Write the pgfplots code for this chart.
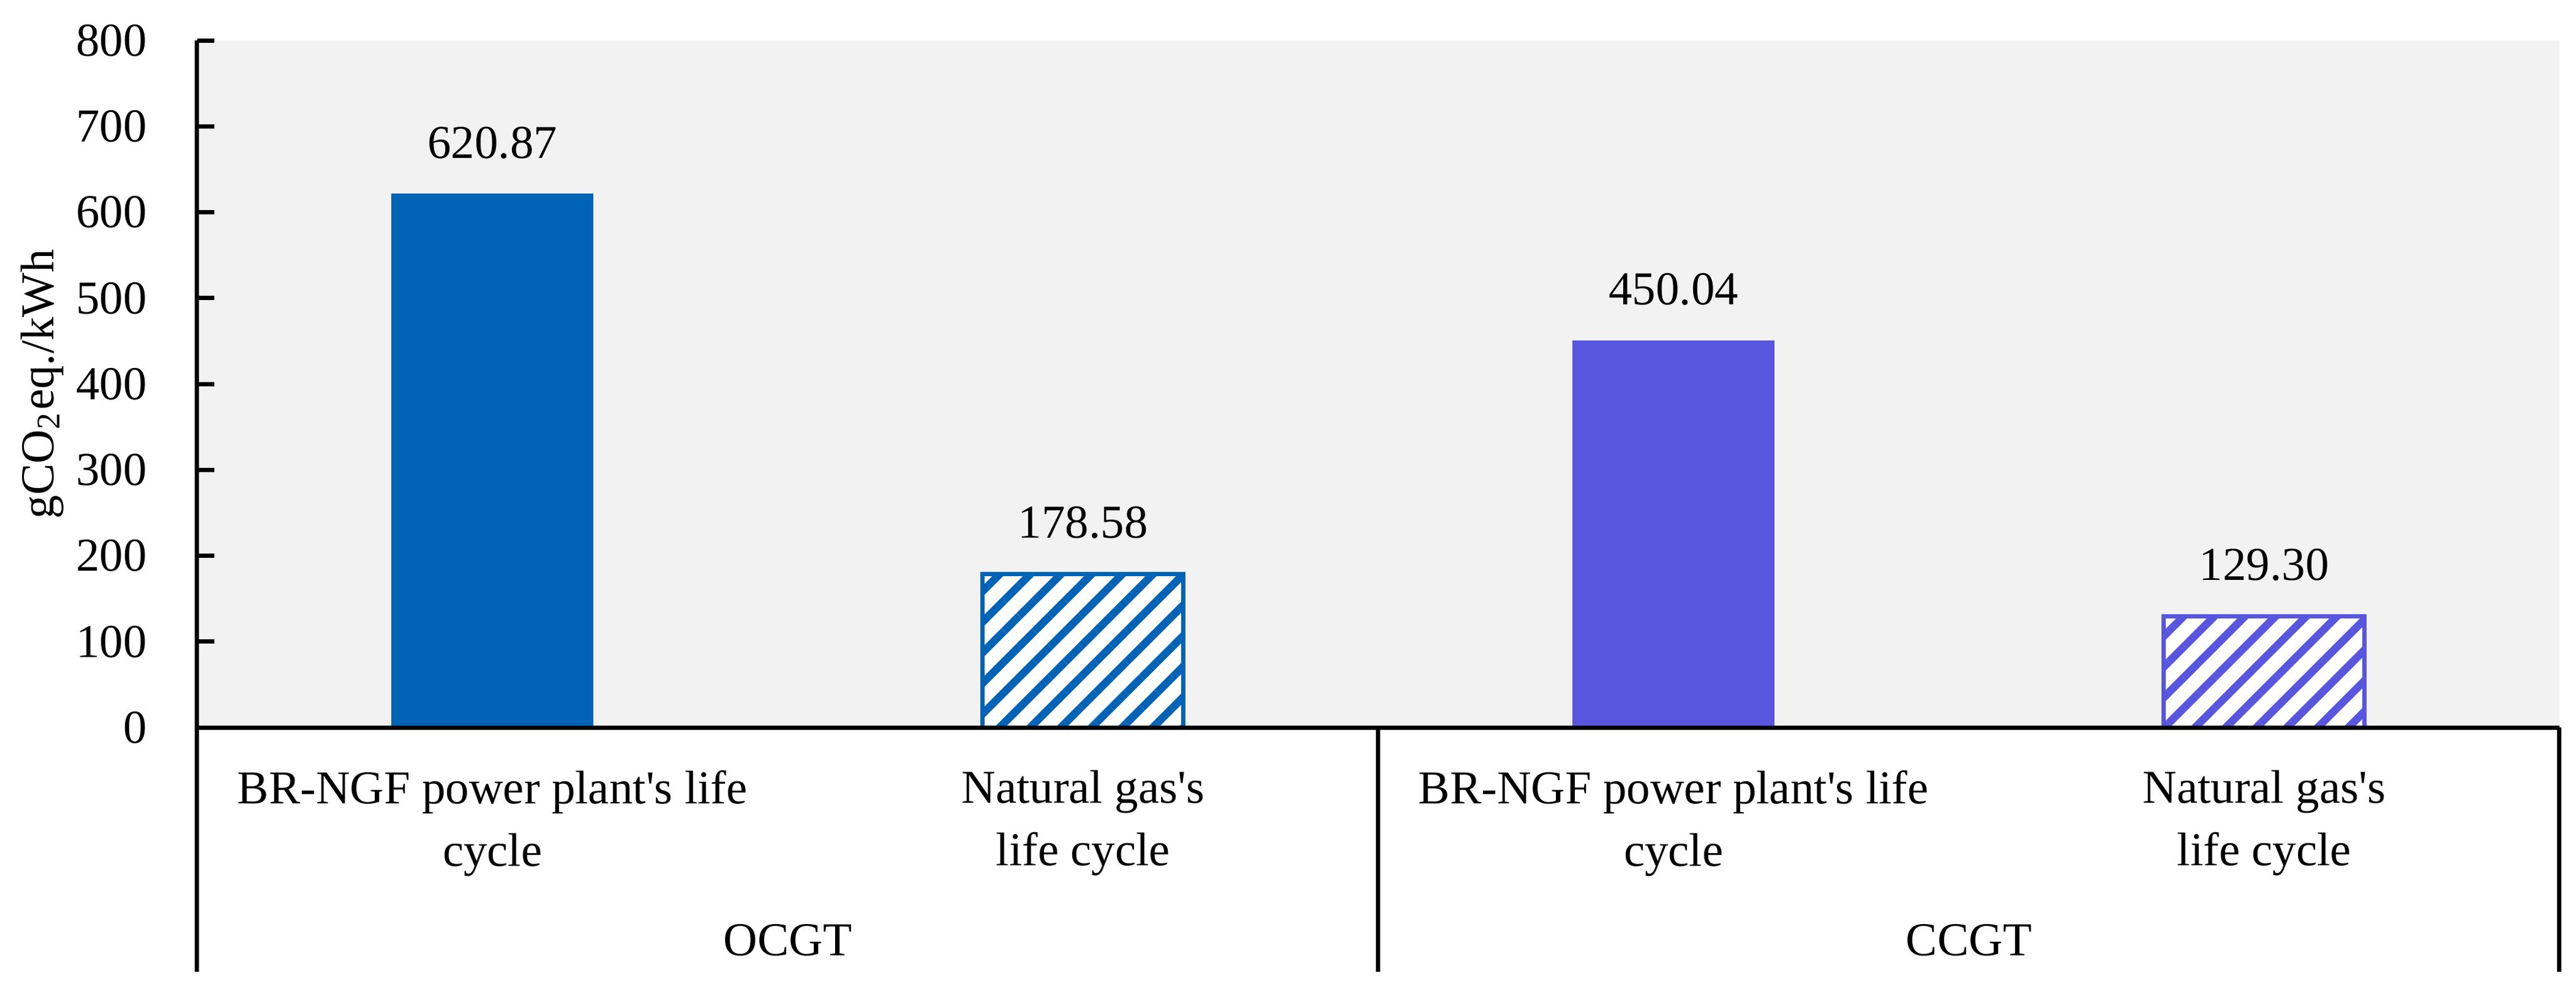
\documentclass[border=0pt]{standalone}
\usepackage{fontspec}
\setmainfont{Liberation Serif}
\usepackage{pgfplots}
\pgfplotsset{compat=1.18}
\usetikzlibrary{patterns.meta}
\definecolor{ocgt}{RGB}{0,99,181}
\definecolor{ccgt}{RGB}{88,86,222}
\definecolor{plotbg}{RGB}{242,242,242}
\newcommand{\fs}{\fontsize{7.7}{10.2}\selectfont}

\begin{document}
\begin{tikzpicture}
\useasboundingbox (0,0) rectangle (420.7pt,161.9pt);
\begin{axis}[
  at={(32.2pt,43.1pt)}, anchor=south west,
  scale only axis, width=385.8pt, height=112.2pt,
  xmin=-0.5, xmax=3.5, ymin=0, ymax=800,
  ytick={0,100,...,800},
  xtick={0,1,2,3},
  xticklabels={{BR-NGF power plant\textquotesingle s life\\cycle},{Natural gas\textquotesingle s\\life cycle},{BR-NGF power plant\textquotesingle s life\\cycle},{Natural gas\textquotesingle s\\life cycle}},
  axis x line*=bottom, axis y line*=left,
  axis line style={line width=0.7pt, black},
  axis background/.style={fill=plotbg},
  axis on top, clip=false,
  tick align=inside, major tick length=2.8pt,
  ytick style={line width=0.7pt, black},
  xtick style={draw=none},
  /pgf/number format/assume math mode=true,
  yticklabel style={font=\fs, anchor=east, inner sep=0pt, xshift=-8pt},
  xticklabel style={font=\fs, align=center, anchor=north, inner sep=0pt, yshift=-4pt},
  ylabel={gCO\textsubscript{2}eq./kWh},
  ylabel style={font=\fs, at={(axis description cs:-0.0656,0.5)}, anchor=center},
  ybar, bar width=32.8pt,
]

% OCGT, power plant life cycle
\addplot[bar shift=0pt, fill=ocgt, draw=ocgt, line width=0.2pt] coordinates {(0,620.87)};
% OCGT, natural gas life cycle (hatched)
\addplot[bar shift=0pt, fill=white, draw=none] coordinates {(1,178.58)};
\addplot[bar shift=0pt, draw=ocgt, line width=0.7pt,
  pattern={Lines[angle=45, distance=3.54pt, line width=1.27pt]}, pattern color=ocgt] coordinates {(1,178.58)};
% CCGT, power plant life cycle
\addplot[bar shift=0pt, fill=ccgt, draw=ccgt, line width=0.2pt] coordinates {(2,450.04)};
% CCGT, natural gas life cycle (hatched)
\addplot[bar shift=0pt, fill=white, draw=none] coordinates {(3,129.30)};
\addplot[bar shift=0pt, draw=ccgt, line width=0.7pt,
  pattern={Lines[angle=45, distance=3.54pt, line width=1.27pt]}, pattern color=ccgt] coordinates {(3,129.30)};

% value labels
\addplot[bar shift=0pt, draw=none, fill=none,
  nodes near coords={\pgfmathprintnumber[fixed,fixed zerofill,precision=2]{\pgfplotspointmeta}},
  nodes near coords style={font=\fs, text=black, anchor=center, inner sep=0pt, yshift=8.4pt}]
  coordinates {(0,620.87) (1,178.58) (2,450.04) (3,129.30)};

% group separators below the axis
\draw[line width=0.7pt] (rel axis cs:0,0) -- ++(0pt,-39.9pt);
\draw[line width=0.7pt] (rel axis cs:0.5,0) -- ++(0pt,-39.9pt);
\draw[line width=0.7pt] (rel axis cs:1,0) -- ++(0pt,-39.9pt);
\node[font=\fs, inner sep=0pt] at ([yshift=-34.7pt]rel axis cs:0.25,0) {OCGT};
\node[font=\fs, inner sep=0pt] at ([yshift=-34.7pt]rel axis cs:0.75,0) {CCGT};
\end{axis}
\end{tikzpicture}
\end{document}
